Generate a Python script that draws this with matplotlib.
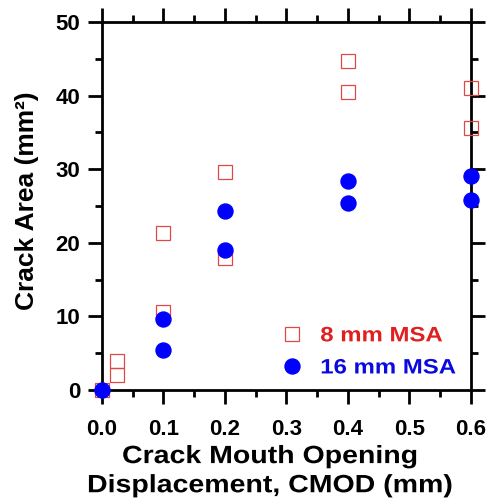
import matplotlib
matplotlib.use("Agg")
import matplotlib.pyplot as plt
from matplotlib.ticker import MultipleLocator
from matplotlib.patheffects import AbstractPathEffect
from matplotlib.transforms import Affine2D

plt.rcParams['font.family'] = ['Liberation Sans', 'DejaVu Sans']
plt.rcParams['font.weight'] = 'bold'

# 8 mm MSA
x8 = [0.0, 0.025, 0.025, 0.1, 0.1, 0.2, 0.2, 0.4, 0.4, 0.6, 0.6]
y8 = [0.0, 2.0, 3.9, 10.6, 21.3, 17.9, 29.6, 44.7, 40.5, 41.0, 35.6]
# 16 mm MSA
x16 = [0.0, 0.1, 0.1, 0.2, 0.2, 0.4, 0.4, 0.6, 0.6]
y16 = [0.0, 9.6, 5.4, 19.0, 24.3, 28.4, 25.4, 29.1, 25.8]

xticks = [0.0, 0.1, 0.2, 0.3, 0.4, 0.5, 0.6]
xticklabels = ["0.0", "0.1", "0.2", "0.3", "0.4", "0.5", "0.6"]
yticks = [0, 10, 20, 30, 40, 50]
series_labels = ["8 mm MSA", "16 mm MSA"]


class HStretch(AbstractPathEffect):
    """Widen glyphs horizontally (the reference text is a wide bold sans)."""
    def __init__(self, sx, anchor='center'):
        super().__init__()
        self.sx = sx
        self.anchor = anchor

    def draw_path(self, renderer, gc, tpath, affine, rgbFace=None):
        ext = tpath.get_extents()
        if self.anchor == 'center':
            cx = (ext.x0 + ext.x1) / 2
        elif self.anchor == 'left':
            cx = 0.0
        else:
            cx = ext.x1
        t = Affine2D().translate(-cx, 0).scale(self.sx, 1).translate(cx, 0) + affine
        renderer.draw_path(gc, tpath, t, rgbFace)


fig = plt.figure(figsize=(4.89, 4.99), dpi=100)
ax = fig.add_axes([102/489, 1-390/499, (471-102)/489, (390-22)/499])

red = "#e04848"
blue = "#0000ff"
ax.plot(x8, y8, linestyle='none', marker='s', markersize=10.5, markerfacecolor='none',
        markeredgecolor=red, markeredgewidth=0.9, clip_on=False, zorder=5,
        label=series_labels[0])
ax.plot(x16, y16, linestyle='none', marker='o', markersize=10.8, markerfacecolor=blue,
        markeredgecolor=blue, clip_on=False, zorder=6, label=series_labels[1])

ax.set_xlim(0, 0.6)
ax.set_ylim(0, 50)
ax.set_xticks(xticks)
ax.set_xticklabels(xticklabels)
ax.set_yticks(yticks)
ax.xaxis.set_minor_locator(MultipleLocator(0.05))
ax.yaxis.set_minor_locator(MultipleLocator(5))
ax.tick_params(which='both', direction='out', top=True, right=True, width=2.0,
               labelsize=16)
ax.tick_params(which='major', length=10)
ax.tick_params(which='minor', length=5)
ax.tick_params(axis='x', which='major', pad=11)
ax.tick_params(axis='y', which='major', pad=5.5)
for lab in ax.get_xticklabels() + ax.get_yticklabels():
    lab.set_fontweight('bold')
for s in ax.spines.values():
    s.set_linewidth(2.0)

ax.set_ylabel("Crack Area (mm²)", fontsize=19, fontweight='bold')
ax.yaxis.set_label_coords(-0.172, 0.515)
ax.set_xlabel("Crack Mouth Opening\nDisplacement, CMOD (mm)", fontsize=18,
              fontweight='bold', linespacing=1.27)
ax.xaxis.set_label_coords(0.455, -0.147)
ax.xaxis.label.set_path_effects([HStretch(1.14, 'center')])

leg = ax.legend(loc='upper left', bbox_to_anchor=(0.487, 0.173), frameon=False,
                fontsize=15, handletextpad=0.85, borderpad=0, borderaxespad=0,
                labelspacing=0.63, handlelength=1.0)
for t, c in zip(leg.get_texts(), ["#e02020", "#0a0ae0"]):
    t.set_color(c)
    t.set_fontweight('bold')
    t.set_path_effects([HStretch(1.15, 'left')])

fig.savefig("out.png", dpi=100)
